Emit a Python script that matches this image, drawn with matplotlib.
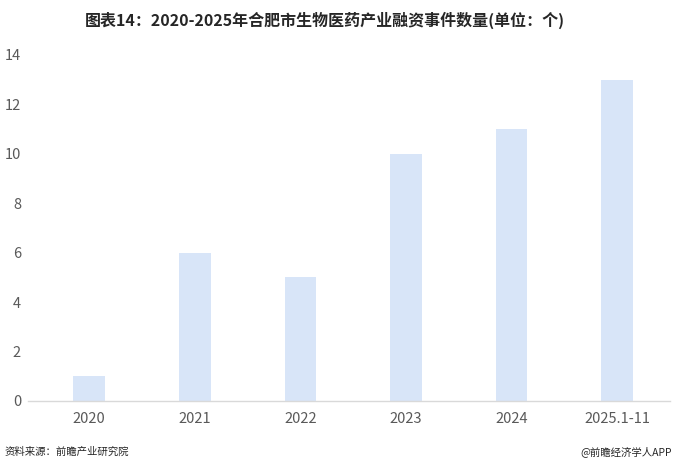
import matplotlib
matplotlib.use('Agg')
import matplotlib.pyplot as plt
import numpy as np

plt.rcParams['font.family'] = ['Noto Sans CJK SC', 'DejaVu Sans']

years = ['2020', '2021', '2022', '2023', '2024', '2025.1-11']
counts = [1, 6, 5, 10, 11, 13]
y_ticks = [0, 2, 4, 6, 8, 10, 12, 14]

fig = plt.figure(figsize=(6.75, 4.72), dpi=100)
ax = fig.add_axes([28 / 675, 1 - 401 / 472, (670 - 28) / 675, (401 - 55) / 472])

x = np.arange(len(years))
ax.bar(x, counts, width=0.3, color='#d8e5f8', zorder=2)

ax.set_xlim(-0.58, 5.5)
ax.set_ylim(0, 14)
ax.set_xticks(x)
ax.set_xticklabels(years, fontsize=10.5, color='#595959')
ax.set_yticks(y_ticks)
ax.set_yticklabels([str(v) for v in y_ticks], fontsize=10.5, color='#595959')
ax.tick_params(axis='both', length=0)
ax.tick_params(axis='x', pad=8)
ax.tick_params(axis='y', pad=5)

for s in ['top', 'right', 'left']:
    ax.spines[s].set_visible(False)
ax.spines['bottom'].set_color('#d9d9d9')
ax.spines['bottom'].set_linewidth(1)

fig.text(0.482, 1 - 20 / 472, '图表14：2020-2025年合肥市生物医药产业融资事件数量(单位：个)',
         ha='center', va='center', fontsize=11.5, fontweight='bold', color='#262626')
fig.text(5 / 675, 1 - 452 / 472, '资料来源：前瞻产业研究院',
         ha='left', va='center', fontsize=7.5, color='#262626')
fig.text(672 / 675, 1 - 452 / 472, '@前瞻经济学人APP',
         ha='right', va='center', fontsize=7.5, color='#262626')

fig.savefig('out.png', dpi=100)
